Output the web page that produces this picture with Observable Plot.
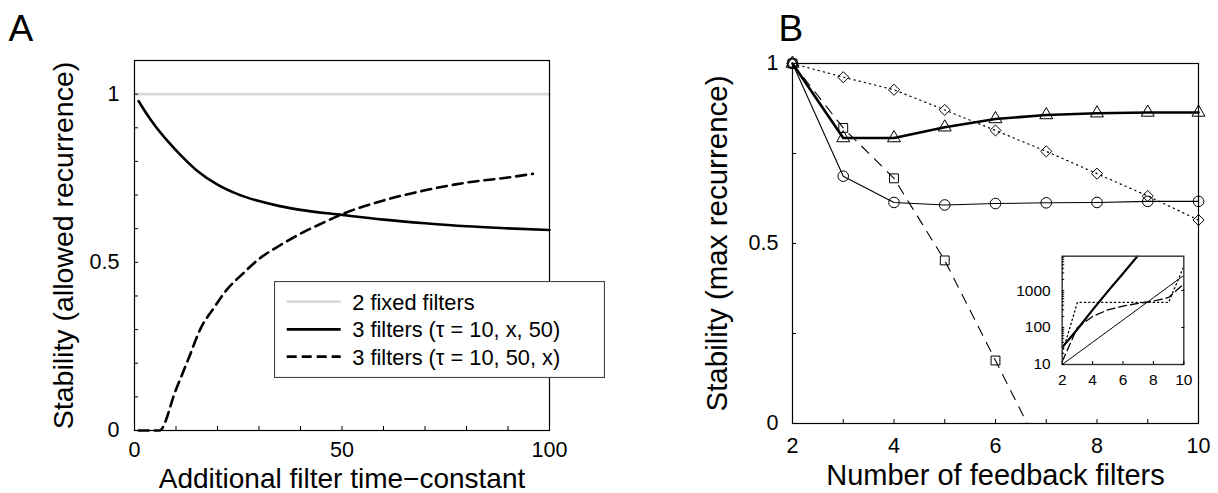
<!DOCTYPE html>
<html>
<head>
<meta charset="utf-8">
<script src="https://cdn.jsdelivr.net/npm/d3@7"></script>
<script src="https://cdn.jsdelivr.net/npm/@observablehq/plot@0.6"></script>
<style>
  body { margin: 0; background: #fff; }
  #wrap { position: relative; width: 1218px; height: 493px; overflow: hidden; background: #fff; }
  .holder { position: absolute; }
  .holder svg { max-width: none !important; display: block; }
</style>
</head>
<body>
<div id="wrap">
  <div class="holder" id="panelA" style="left:0;top:0;width:609px;height:493px"></div>
  <div class="holder" id="panelB" style="left:609px;top:0;width:609px;height:493px"></div>
  <div class="holder" id="inset" style="left:1000px;top:240px;width:200px;height:150px"></div>
  <div class="holder" id="legend" style="left:274px;top:281px;width:331px;height:97px"></div>
</div>
<script>
// ---------------- data ----------------
const FONT = "'Liberation Sans', Arial, Helvetica, sans-serif";

// Panel A
const fixedX = [0, 100];
const fixedY = [1, 1];
const solidX = [1, 3, 5, 8, 11, 15, 20, 25, 30, 35, 40, 50, 60, 70, 80, 90, 100];
const solidY = [0.979, 0.94, 0.905, 0.86, 0.82, 0.773, 0.731, 0.702, 0.682, 0.667, 0.656, 0.641, 0.627, 0.616, 0.607, 0.601, 0.596];
const dashX = [1, 6, 10, 13, 16, 19, 22, 26, 30, 35, 40, 45, 50, 60, 70, 80, 90, 96];
const dashY = [0, 0, 0.122, 0.213, 0.305, 0.362, 0.415, 0.465, 0.51, 0.55, 0.585, 0.615, 0.643, 0.684, 0.714, 0.737, 0.752, 0.763];
const legendLabels = ["2 fixed filters", "3 filters (\u03c4 = 10, x, 50)", "3 filters (\u03c4 = 10, 50, x)"];
const aXTicks = [0, 10, 20, 30, 40, 50, 60, 70, 80, 90, 100];
const aXLabels = [0, 50, 100];
const aYTicks = [0, 0.1, 0.2, 0.3, 0.4, 0.5, 0.6, 0.7, 0.8, 0.9, 1];
const aYLabels = [0, 0.5, 1];
const aXTitle = "Additional filter time\u2212constant";
const aYTitle = "Stability (allowed recurrence)";

// Panel B
const nFilters = [2, 3, 4, 5, 6, 7, 8, 9, 10];
const triY = [1, 0.793, 0.793, 0.823, 0.846, 0.857, 0.862, 0.864, 0.864];
const circY = [1, 0.687, 0.614, 0.607, 0.611, 0.613, 0.614, 0.617, 0.617];
const diamY = [1, 0.962, 0.927, 0.871, 0.814, 0.756, 0.694, 0.632, 0.565];
const sqX = [2, 3, 4, 5, 6, 7];
const sqY = [1, 0.821, 0.681, 0.453, 0.175, -0.105];
const bXTicks = [2, 3, 4, 5, 6, 7, 8, 9, 10];
const bXLabels = [2, 4, 6, 8, 10];
const bYTicks = [0, 0.25, 0.5, 0.75, 1];
const bYLabels = [0, 0.5, 1];
const bXTitle = "Number of feedback filters";
const bYTitle = "Stability (max recurrence)";

// Inset (log scale)
const insetX = [2, 3, 4, 5, 6, 7, 8, 9, 10];
const insetThickX = [2, 3, 4, 5, 6, 7, 8];
const insetThick = [29, 90, 300, 950, 2900, 9000, 28000];
const insetThin = [10, 20, 40, 80, 160, 320, 640, 1280, 2560];
const insetDotted = [20, 480, 480, 480, 480, 480, 480, 480, 4500];
const insetDashed = [12, 100, 200, 300, 380, 450, 520, 650, 1500];
const insetXTicks = [2, 4, 6, 8, 10];
const insetYMinor = [10, 20, 30, 40, 50, 60, 70, 80, 90, 100, 200, 300, 400, 500, 600, 700, 800, 900, 1000, 2000, 3000, 4000, 5000, 6000, 7000, 8000];
const insetYLabels = [10, 100, 1000];

// ---------------- helpers ----------------
const zip = (xs, ys) => xs.map((x, i) => ({x, y: ys[i]}));
const fmt = (labels) => (d) => labels.includes(d) ? String(d) : "";
const TICKFONT = 21.5;
const TICKFONT_B = 21.5;

// ---------------- Panel A ----------------
const A = Plot.plot({
  width: 609, height: 493,
  marginLeft: 134, marginRight: 60, marginTop: 60, marginBottom: 63,
  style: {fontFamily: FONT, fontSize: TICKFONT + "px", background: "transparent", color: "black", overflow: "visible"},
  x: {domain: [0, 100]},
  y: {domain: [0, 1.1]},
  marks: [
    Plot.line(zip(fixedX, fixedY), {x: "x", y: "y", stroke: "#d9d9d9", strokeWidth: 2.6}),
    Plot.line(zip(solidX, solidY), {x: "x", y: "y", stroke: "black", strokeWidth: 2.6, curve: "monotone-x"}),
    Plot.line(zip(dashX, dashY), {x: "x", y: "y", stroke: "black", strokeWidth: 2.6, strokeDasharray: "10,6", curve: "monotone-x"}),
    Plot.frame({stroke: "black", strokeWidth: 1.2}),
    Plot.axisX({ticks: aXTicks, tickSize: -4, tickPadding: 15, tickFormat: fmt(aXLabels), label: null, fontSize: TICKFONT}),
    Plot.axisY({ticks: aYTicks, tickSize: -4, tickPadding: 19, tickFormat: fmt(aYLabels), label: null, fontSize: TICKFONT}),
    Plot.text([aYTitle], {text: d => d, frameAnchor: "left", rotate: -90, dx: -61.5, textAnchor: "middle", lineAnchor: "bottom", fontSize: 28.5}),
    Plot.text([aXTitle], {text: d => d, frameAnchor: "bottom", dy: 57, textAnchor: "middle", lineAnchor: "bottom", fontSize: 28}),
    Plot.text(["A"], {text: d => d, frameAnchor: "top-left", dx: -126, dy: -20, lineAnchor: "bottom", textAnchor: "start", fontSize: 37})
  ]
});
document.getElementById("panelA").append(A);

// ---------------- Panel B ----------------
const triData = zip(nFilters, triY);
const circData = zip(nFilters, circY);
const diamData = zip(nFilters, diamY);
const sqData = zip(sqX, sqY);
const B = Plot.plot({
  width: 609, height: 493,
  marginLeft: 183, marginRight: 20, marginTop: 63, marginBottom: 70,
  style: {fontFamily: FONT, fontSize: TICKFONT_B + "px", background: "transparent", color: "black", overflow: "visible"},
  x: {domain: [2, 10]},
  y: {domain: [0, 1]},
  marks: [
    Plot.line(diamData, {x: "x", y: "y", stroke: "black", strokeWidth: 1.2, strokeDasharray: "1.3,4"}),
    Plot.line(sqData, {x: "x", y: "y", stroke: "black", strokeWidth: 1.1, strokeDasharray: "10,8", clip: true}),
    Plot.line(circData, {x: "x", y: "y", stroke: "black", strokeWidth: 1.1}),
    Plot.line(triData, {x: "x", y: "y", stroke: "black", strokeWidth: 2.6}),
    Plot.dot(diamData, {x: "x", y: "y", symbol: "diamond2", r: 5, stroke: "black", fill: "none", strokeWidth: 1}),
    Plot.dot(sqData.filter(d => d.y >= 0), {x: "x", y: "y", symbol: "square", r: 5, stroke: "black", fill: "none", strokeWidth: 1}),
    Plot.dot(circData, {x: "x", y: "y", symbol: "circle", r: 5.3, stroke: "black", fill: "none", strokeWidth: 1}),
    Plot.dot(triData, {x: "x", y: "y", symbol: "triangle", r: 4.8, stroke: "black", fill: "none", strokeWidth: 1}),
    Plot.frame({stroke: "black", strokeWidth: 1.2}),
    Plot.axisX({ticks: bXTicks, tickSize: -4, tickPadding: 18.5, tickFormat: fmt(bXLabels), label: null, fontSize: TICKFONT_B}),
    Plot.axisY({ticks: bYTicks, tickSize: -4, tickPadding: 18, tickFormat: fmt(bYLabels), label: null, fontSize: TICKFONT_B}),
    Plot.text([bYTitle], {text: d => d, frameAnchor: "left", rotate: -90, dx: -65.5, textAnchor: "middle", lineAnchor: "bottom", fontSize: 29.5}),
    Plot.text([bXTitle], {text: d => d, frameAnchor: "bottom", dy: 61, textAnchor: "middle", lineAnchor: "bottom", fontSize: 29}),
    Plot.text(["B"], {text: d => d, frameAnchor: "top-left", dx: -14, dy: -23, lineAnchor: "bottom", textAnchor: "start", fontSize: 37})
  ]
});
document.getElementById("panelB").append(B);

// ---------------- Inset ----------------
const I = Plot.plot({
  width: 200, height: 150,
  marginLeft: 61.7, marginRight: 16.7, marginTop: 15.7, marginBottom: 26,
  style: {fontFamily: FONT, fontSize: "15.5px", background: "transparent", color: "black", overflow: "visible"},
  x: {domain: [2, 10]},
  y: {type: "log", domain: [10, 8500]},
  marks: [
    Plot.frame({fill: "white", stroke: "none"}),
    Plot.line(zip(insetX, insetThin), {x: "x", y: "y", stroke: "black", strokeWidth: 1, clip: true}),
    Plot.line(zip(insetX, insetDotted), {x: "x", y: "y", stroke: "black", strokeWidth: 1.3, strokeDasharray: "1.3,3", clip: true}),
    Plot.line(zip(insetX, insetDashed), {x: "x", y: "y", stroke: "black", strokeWidth: 1.3, strokeDasharray: "8,4", clip: true}),
    Plot.line(zip(insetThickX, insetThick), {x: "x", y: "y", stroke: "black", strokeWidth: 2.2, clip: true}),
    Plot.frame({stroke: "#333", strokeWidth: 1.4}),
    Plot.axisX({ticks: insetXTicks, tickSize: -3, tickPadding: 12, tickFormat: d => String(d), label: null, fontSize: 15.5}),
    Plot.axisY({ticks: insetYMinor, tickSize: -2.5, tickPadding: 14, tickFormat: fmt(insetYLabels), label: null, fontSize: 15.5}),
    Plot.axisY({anchor: "right", ticks: insetYLabels, tickSize: -3, tickFormat: () => "", label: null})
  ]
});
document.getElementById("inset").append(I);

// ---------------- Legend (panel A) ----------------
const legendStyles = [
  {stroke: "#d9d9d9", dash: null},
  {stroke: "black", dash: null},
  {stroke: "black", dash: "10,5"}
];
const rowY = [20.7, 48.3, 75.7];
const svgNS = "http://www.w3.org/2000/svg";
const lg = document.createElementNS(svgNS, "svg");
lg.setAttribute("width", 331);
lg.setAttribute("height", 97);
lg.style.fontFamily = FONT;
const box = document.createElementNS(svgNS, "rect");
box.setAttribute("x", 0.5); box.setAttribute("y", 0.5);
box.setAttribute("width", 330); box.setAttribute("height", 96);
box.setAttribute("fill", "white"); box.setAttribute("stroke", "#444"); box.setAttribute("stroke-width", 1.2);
lg.append(box);
legendLabels.forEach((lab, i) => {
  const ln = document.createElementNS(svgNS, "line");
  ln.setAttribute("x1", 12.7); ln.setAttribute("x2", 66.7);
  ln.setAttribute("y1", rowY[i]); ln.setAttribute("y2", rowY[i]);
  ln.setAttribute("stroke", legendStyles[i].stroke);
  ln.setAttribute("stroke-width", 2.8);
  if (legendStyles[i].dash) ln.setAttribute("stroke-dasharray", legendStyles[i].dash);
  lg.append(ln);
  const t = document.createElementNS(svgNS, "text");
  t.setAttribute("x", 78.3); t.setAttribute("y", rowY[i]);
  t.setAttribute("dy", "0.36em");
  t.setAttribute("font-size", 21.8);
  t.textContent = lab;
  lg.append(t);
});
document.getElementById("legend").append(lg);
</script>
</body>
</html>
